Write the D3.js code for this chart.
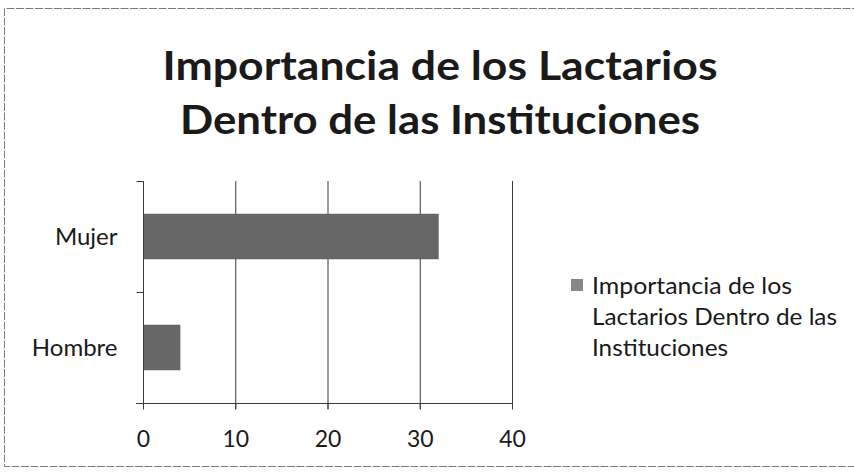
<!DOCTYPE html>
<html>
<head>
<meta charset="utf-8">
<script src="https://cdn.jsdelivr.net/npm/d3@7/dist/d3.min.js"></script>
<style>
  html, body { margin: 0; padding: 0; background: #fff; }
  svg { display: block; }
</style>
</head>
<body>
<svg id="chart" width="854" height="473"></svg>
<script>
// ---- data ----
const titleLines = ["Importancia de los Lactarios", "Dentro de las Instituciones"];
const categories = ["Mujer", "Hombre"];
const values = [32, 4];
const xTicks = [0, 10, 20, 30, 40];
const seriesName = "Importancia de los Lactarios Dentro de las Instituciones";
const legendLines = ["Importancia de los", "Lactarios Dentro de las", "Instituciones"];

const svg = d3.select("#chart");
const FONT = "Lato, 'Open Sans', sans-serif";
const TEXT = "#1a1a1a";
const LINE = "#3a3a3a";

// outer frame
svg.append("rect").attr("x", 0).attr("y", 0).attr("width", 854).attr("height", 473).attr("fill", "#fff");
svg.append("path")
  .attr("d", "M860,8.5 H4.5 V466.5 H860")
  .attr("fill", "none").attr("stroke", "#7a7a7a").attr("stroke-width", 1)
  .attr("stroke-dasharray", "8,1.5");

// title
const titleBase = [80, 134];
const titleWidth = [555, 520];
titleLines.forEach((t, i) => {
  svg.append("text")
    .attr("x", 440).attr("y", titleBase[i])
    .attr("text-anchor", "middle")
    .attr("font-family", FONT).attr("font-weight", 700).attr("font-size", 40)
    .attr("fill", TEXT)
    .attr("textLength", titleWidth[i]).attr("lengthAdjust", "spacingAndGlyphs")
    .text(t);
});

// scales
const x = d3.scaleLinear().domain([0, 40]).range([143, 512]);
const y = d3.scaleBand().domain(categories).range([181, 403]).paddingInner(0.59).paddingOuter(0.295);
const yTop = 181, yBot = 403;

// gridlines (extend below axis as ticks)
svg.append("g").selectAll("line").data(xTicks).join("line")
  .attr("x1", d => x(d) + 0.5).attr("x2", d => x(d) + 0.5)
  .attr("y1", yTop).attr("y2", yBot + 6)
  .attr("stroke", LINE).attr("stroke-width", 1);

// bars
svg.append("g").selectAll("rect").data(categories).join("rect")
  .attr("x", x(0) + 0.5)
  .attr("y", d => y(d))
  .attr("width", (d, i) => x(values[i]) - x(0))
  .attr("height", y.bandwidth())
  .attr("fill", "#666666");

// x axis
const xAxis = svg.append("g").attr("transform", `translate(0,${yBot + 0.5})`)
  .call(d3.axisBottom(x).tickValues(xTicks).tickSize(6).tickSizeOuter(0));
xAxis.select(".domain").remove();
xAxis.append("line").attr("x1", 136).attr("x2", 512.5).attr("y1", 0).attr("y2", 0)
  .attr("stroke", LINE).attr("stroke-width", 1);
xAxis.selectAll(".tick line").attr("stroke", LINE);
xAxis.selectAll(".tick text")
  .attr("y", 43).attr("dy", null)
  .attr("font-family", FONT).attr("font-size", 23).attr("fill", TEXT);

// y axis
const yAxis = svg.append("g").attr("transform", `translate(${x(0) + 0.5},0)`)
  .call(d3.axisLeft(y).tickSize(0).tickPadding(26));
yAxis.select(".domain").remove();
yAxis.append("line").attr("x1", 0).attr("x2", 0).attr("y1", yTop).attr("y2", yBot)
  .attr("stroke", LINE).attr("stroke-width", 1);
// category boundary ticks
const bounds = [yTop, (y("Mujer") + y.bandwidth() + y("Hombre")) / 2, yBot];
yAxis.append("g").selectAll("line").data(bounds).join("line")
  .attr("x1", -7).attr("x2", 0).attr("y1", d => Math.round(d) + 0.5).attr("y2", d => Math.round(d) + 0.5)
  .attr("stroke", LINE).attr("stroke-width", 1);
yAxis.selectAll(".tick text")
  .attr("dy", "0.36em")
  .attr("font-family", FONT).attr("font-size", 24).attr("fill", TEXT);

// legend
const lg = svg.append("g").attr("aria-label", seriesName);
lg.append("rect").attr("x", 571).attr("y", 279).attr("width", 12).attr("height", 12)
  .attr("fill", "#888888");
const legendBase = [294, 325, 356];
const legendWidth = [200, 245, 136];
legendLines.forEach((t, i) => {
  lg.append("text")
    .attr("x", 592).attr("y", legendBase[i])
    .attr("font-family", FONT).attr("font-size", 23).attr("fill", TEXT)
    .attr("textLength", legendWidth[i]).attr("lengthAdjust", "spacingAndGlyphs")
    .text(t);
});
</script>
</body>
</html>
